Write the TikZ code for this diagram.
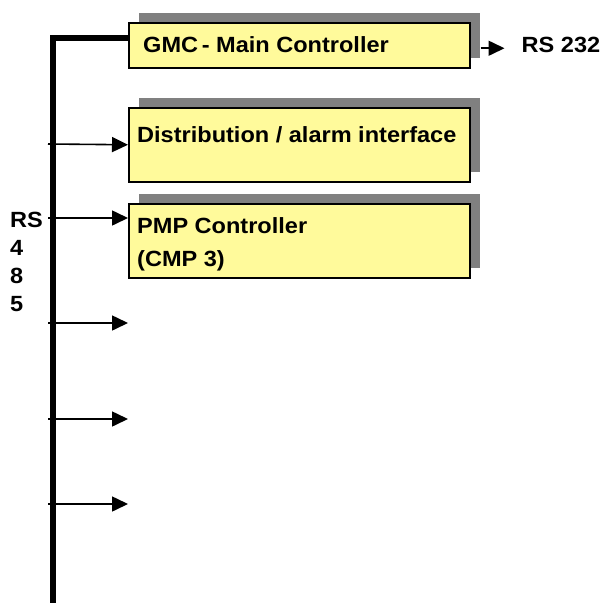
\documentclass[tikz,border=0pt]{standalone}
\usepackage{fontspec}
\setmainfont{Liberation Sans}[FakeStretch=1.07]
\usetikzlibrary{arrows.meta,positioning,shadows}
\definecolor{boxyellow}{RGB}{255,250,155}
\definecolor{shadowgray}{RGB}{128,128,128}
\begin{document}
\begin{tikzpicture}[x=1pt,y=-1pt,font=\fontsize{22}{28}\selectfont\bfseries,
    unit/.style={draw=black,line width=1.5pt,fill=boxyellow,minimum width=341pt,anchor=north west,inner sep=0pt,
        general shadow={fill=shadowgray,shadow xshift=10pt,shadow yshift=10pt}},
    caption/.style={inner sep=0pt,align=left},
    link/.style={line width=1.6pt,-{Triangle[length=16pt,width=15pt]}},
    bus/.style={line width=6pt}]
    \useasboundingbox (0,0) rectangle (602,603);
    % units
    \node[unit,minimum height=45pt] (gmc) at (128,22) {};
    \node[unit,minimum height=74pt] (dist) at (128,107) {};
    \node[unit,minimum height=74pt] (pmp) at (128,203) {};
    \node[caption,anchor=base west] (gmctext) at (143,52) {GMC\,- Main Controller};
    \node[caption,anchor=base west] (disttext) at (137,142) {Distribution / alarm interface};
    \node[caption,anchor=north west,font=\fontsize{22}{33}\selectfont\bfseries] (pmptext) at (137,217) {PMP Controller\\(CMP 3)};
    \node[caption,right=51pt of gmc] (rs232) {RS 232};
    \node[caption,anchor=north west] (rs485) at (10,212) {RS\\4\\8\\5};
    % bus
    \coordinate (busfoot) at (53,603);
    \draw[bus] (busfoot) |- ([yshift=7.5pt]gmc.west);
    \draw[link] ([xshift=10pt,yshift=-3pt]gmc.east) -- ([xshift=-17pt,yshift=-3pt]rs232.west);
    \coordinate (tapD) at (48,144);
    \coordinate (tapP) at (48,218);
    \draw[link] (tapD) -- (dist.west);
    \draw[link] (tapP) -- (tapP -| pmp.west);
    \foreach \y [count=\i] in {323,419,504}{
        \coordinate (tap\i) at (48,\y);
        \coordinate (port\i) at (128,\y);
        \draw[link] (tap\i) -- (port\i);
    }
\end{tikzpicture}
\end{document}
